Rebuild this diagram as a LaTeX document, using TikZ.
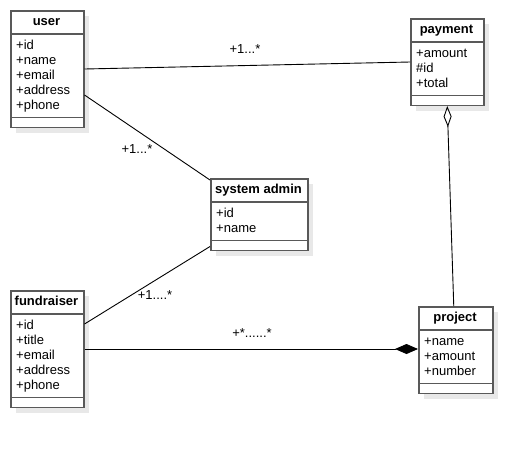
\documentclass[tikz,border=0pt]{standalone}
\usepackage{fontspec}
\setmainfont{Liberation Sans}
\usetikzlibrary{arrows.meta,calc}
\tikzset{
  txt/.style={inner sep=0pt, font=\fontsize{13pt}{15pt}\selectfont},
  ttl/.style={txt, font=\fontsize{13pt}{15pt}\selectfont\bfseries},
  classbox/.style={draw=black!65, line width=1.5pt, fill=white, inner sep=0pt},
  sepline/.style={draw=black!65, line width=1.5pt},
  shadowc/.style={fill=black!9},
  conn/.style={draw=black, line width=0.9pt},
  mult/.style={txt}
}
\newcommand{\umlclass}[7]{%
  \pgfmathsetmacro\sepA{#3+24}%
  \pgfmathsetmacro\sepB{#3+24+15*#5+8.5}%
  \pgfmathsetmacro\botY{\sepB+9}%
  \pgfmathsetmacro\hh{\botY-#3}%
  \fill[shadowc] (#2+6,#3+6) rectangle (#2+#4+6,\botY+6);
  \node[classbox, anchor=north west, minimum width=#4pt, minimum height=\hh pt] (#1) at (#2,#3) {};
  \draw[sepline] (#2,\sepA) -- (#2+#4,\sepA);
  \draw[sepline] (#2,\sepB) -- (#2+#4,\sepB);
  \node[ttl, anchor=base] (#1-t) at (#2+#4/2,\sepA-8.5) {#6};
  \foreach \attr [count=\k] in {#7} {
    \node[txt, anchor=base west] (#1-\k) at (#2+6,\sepA+15*\k) {\attr};
  }%
}
\begin{document}
\begin{tikzpicture}[x=1pt,y=-1pt]
\useasboundingbox[fill=white] (0,0) rectangle (532,448);
\umlclass{user}{10}{10}{73}{5}{user}{+id,+name,+email,+address,+phone}
\umlclass{payment}{410}{18}{73}{3}{payment}{+amount,\#id,+total}
\umlclass{admin}{210}{178}{97}{2}{system admin}{+id,+name}
\umlclass{fund}{10}{290}{73}{5}{fundraiser}{+id,+title,+email,+address,+phone}
\umlclass{project}{418}{306}{74}{3}{project}{+name,+amount,+number}

\coordinate (ua) at ($(user.north east)+(0,85)$);
\coordinate (au) at ($(admin.north west)+(0,2)$);
\coordinate (fa) at ($(fund.north east)+(0,34)$);
\coordinate (af) at ($(admin.south west)+(0,-4.5)$);
\coordinate (pp) at ($(project.north)+(-2,0)$);

\draw[conn] (user.east) -- (payment.west);
\draw[conn] (ua) -- (au);
\draw[conn] (fa) -- (af);
\draw[conn, -{Diamond[length=23pt,width=10pt]}] (fund.east) -- (fund.east -| project.west);
\draw[conn, {Diamond[open,length=21pt,width=8pt]}-] (payment.south) -- (pp);

\node[mult] (m1) at (245,49) {+1...*};
\node[mult] (m2) at (137,149) {+1...*};
\node[mult] (m3) at (155,295) {+1....*};
\node[mult] (m4) at (252,333) {+*......*};
\end{tikzpicture}
\end{document}
